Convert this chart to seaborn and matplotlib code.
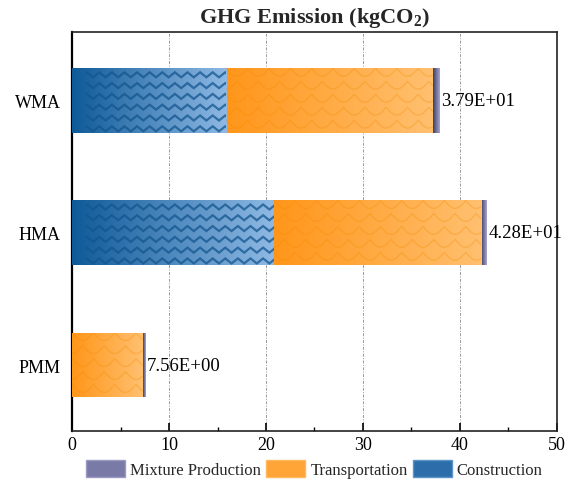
import numpy as np
import pandas as pd
import seaborn as sns
import matplotlib.pyplot as plt
from matplotlib.colors import LinearSegmentedColormap
from matplotlib.patches import Patch

# data
mixes = ["WMA", "HMA", "PMM"]
construction = [15.9, 20.8, 0.0]
transportation = [21.3, 21.4, 7.3]
mixture_production = [0.7, 0.6, 0.26]
total_labels = ["3.79E+01", "4.28E+01", "7.56E+00"]

sns.set_theme(style="white")
plt.rcParams["font.family"] = ["Liberation Serif", "DejaVu Serif"]
plt.rcParams["mathtext.fontset"] = "custom"
plt.rcParams["mathtext.rm"] = "Liberation Serif:bold"
plt.rcParams["mathtext.bf"] = "Liberation Serif:bold"

df = pd.DataFrame({"mix": mixes,
                   "construction": construction,
                   "transportation": transportation,
                   "mixture": mixture_production})
df["c_end"] = df["construction"]
df["t_end"] = df["c_end"] + df["transportation"]
df["m_end"] = df["t_end"] + df["mixture"]

cmaps = {
    "m_end": LinearSegmentedColormap.from_list("mix", ["#3e3e62", "#a6a6d0"]),
    "t_end": LinearSegmentedColormap.from_list("tra", ["#ff961a", "#ffc070"]),
    "c_end": LinearSegmentedColormap.from_list("con", ["#0e5a98", "#8fb9e4"]),
}
solid = {"m_end": "#6e6e98", "t_end": "#ffa437", "c_end": "#2d6eaa"}

fig, ax = plt.subplots(figsize=(5.77, 4.85), dpi=100)
fig.subplots_adjust(left=0.125, right=0.965, top=0.932, bottom=0.109)

ax.set_xlim(0, 50)
starts = {"m_end": "t_end", "t_end": "c_end", "c_end": None}
grad = np.linspace(0, 1, 256).reshape(1, -1)

for col in ["m_end", "t_end", "c_end"]:
    n0 = len(ax.patches)
    sns.barplot(data=df, x=col, y="mix", order=mixes, orient="h",
                color=solid[col], width=0.49, ax=ax, linewidth=0, zorder=2)
    new = ax.patches[n0:]
    for i, p in enumerate(new):
        x1 = p.get_x() + p.get_width()
        x0 = df[starts[col]].iloc[i] if starts[col] else 0.0
        if x1 - x0 <= 0:
            continue
        y0, h = p.get_y(), p.get_height()
        im = ax.imshow(grad, cmap=cmaps[col], aspect="auto",
                       extent=(x0, x1, y0 + h, y0), zorder=3)
        im.set_clip_path(p)
        if col == "c_end":
            # zigzag texture on the construction segment
            xs = np.arange(x0 + 1.5, x1 + 0.7, 0.65)
            for k in range(6):
                yy = y0 + h * (k + 0.6) / 6 + np.where(np.arange(len(xs)) % 2, 0.019, -0.019)
                ln, = ax.plot(xs, yy, color="#13568f", lw=1.6, alpha=0.75,
                              zorder=4, solid_joinstyle="miter")
                ln.set_clip_path(p)
        elif col == "t_end":
            # faint scale texture on the transportation segment
            for k in range(6):
                xs = np.linspace(x0, x1, 300)
                shift = 1.1 if k % 2 else 0.0
                yy = y0 + h * k / 5 + 0.06 * np.abs(np.sin((xs - x0 + shift) * np.pi / 2.2))
                ln, = ax.plot(xs, yy, color="#f08c00", lw=1.0, alpha=0.3, zorder=4)
                ln.set_clip_path(p)

ax.set_ylim(2.5, -0.52)

for i, lab in enumerate(total_labels):
    ax.text(df["m_end"].iloc[i] + 0.12, i, lab, va="center", ha="left",
            fontsize=13.5, color="black", zorder=5)

ax.set_xticks([0, 10, 20, 30, 40, 50])
ax.set_xticks(np.arange(5, 50, 10), minor=True)
ax.xaxis.grid(True, which="major", color="#999999",
              linestyle=(0, (3, 1.5, 1, 1.5)), linewidth=0.7)
ax.set_axisbelow(True)
ax.set_xlabel("")
ax.set_ylabel("")
ax.tick_params(axis="x", which="major", labelsize=13, colors="black",
               length=6, width=1.2, direction="in", bottom=True)
ax.tick_params(axis="x", which="minor", length=3, width=1.0,
               direction="in", bottom=True, color="black")
ax.tick_params(axis="y", labelsize=13, colors="black", length=0, pad=8)
for s in ax.spines.values():
    s.set_color("#222222")
    s.set_linewidth(1.2)
ax.spines["left"].set_color("black")
ax.spines["left"].set_linewidth(1.6)

ax.set_title(r"GHG Emission (kgCO$_\mathbf{2}$)", fontsize=16,
             fontweight="bold", pad=7)

handles = [Patch(facecolor="#7a7aa6", edgecolor="#9a9ac4", label="Mixture Production"),
           Patch(facecolor="#ffa437", edgecolor="#ffb85e", label="Transportation"),
           Patch(facecolor="#2d6eaa", edgecolor="#5d94c8", label="Construction")]
ax.legend(handles=handles, loc="center", bbox_to_anchor=(0.5, -0.095),
          ncol=3, frameon=False, fontsize=12, handlelength=2.35, handleheight=1.2,
          handletextpad=0.3, columnspacing=0.3, borderaxespad=0)

fig.savefig("out.png", dpi=100)
